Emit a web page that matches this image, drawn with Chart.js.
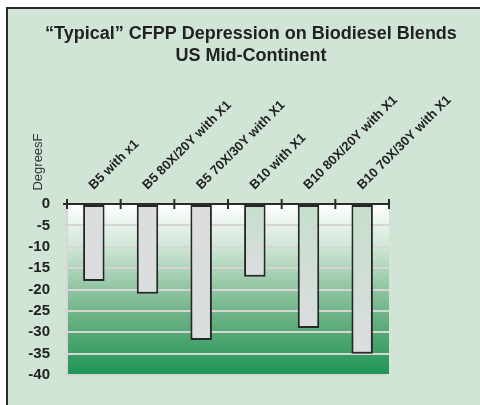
<!DOCTYPE html>
<html>
<head>
<meta charset="utf-8">
<script src="https://cdn.jsdelivr.net/npm/chart.js@4/dist/chart.umd.min.js"></script>
<style>
  html, body { margin: 0; padding: 0; background: #fff; }
  canvas { display: block; }
</style>
</head>
<body>
<canvas id="cfpp" width="480" height="405"></canvas>
<script>
// values
const categories = ['B5 with x1', 'B5 80X/20Y with X1', 'B5 70X/30Y with X1',
    'B10 with X1', 'B10 80X/20Y with X1', 'B10 70X/30Y with X1'];
const cfppDepression = [-18, -21, -31.8, -17, -29, -35];
const yMin = -40;
const yMax = 0;
const yStep = 5;

const titleLines = ['\u201CTypical\u201D CFPP Depression on Biodiesel Blends', 'US Mid-Continent'];
const yTitle = 'DegreesF';

const FONT = "'Liberation Sans', Arial, Helvetica, sans-serif";

// frame + gradient plot background, drawn under everything
const backdrop = {
    id: 'backdrop',
    beforeDraw(chart) {
        const { ctx, chartArea: a, width, height } = chart;
        ctx.save();
        ctx.fillStyle = '#ffffff';
        ctx.fillRect(0, 0, width, height);
        ctx.fillStyle = '#d1e5d7';
        ctx.fillRect(7, 8, width - 7, height - 8);
        ctx.fillStyle = '#2b2b2b';
        ctx.fillRect(6, 7, 2, height - 7);
        ctx.fillRect(6, 7, width - 6, 2);

        const g = ctx.createLinearGradient(0, a.top, 0, a.bottom);
        g.addColorStop(0, '#ffffff');
        g.addColorStop(0.25, '#d0e6d6');
        g.addColorStop(0.5, '#8fc4a0');
        g.addColorStop(0.75, '#56a875');
        g.addColorStop(1, '#1f9556');
        ctx.fillStyle = g;
        ctx.fillRect(a.left, a.top, a.right - a.left, a.bottom - a.top);
        ctx.restore();
    },
    afterDraw(chart) {
        const { ctx, scales } = chart;
        const x = scales.x, y = scales.y;
        const zero = y.getPixelForValue(0);
        ctx.save();
        // zero line with tick marks crossing it at category boundaries
        ctx.strokeStyle = '#2b2b2b';
        ctx.lineWidth = 2;
        ctx.beginPath();
        ctx.moveTo(x.left - 4, zero);
        ctx.lineTo(x.right, zero);
        const half = (x.getPixelForValue(1) - x.getPixelForValue(0)) / 2;
        for (let i = 0; i <= categories.length; i++) {
            const px = x.getPixelForValue(i) - half;
            ctx.moveTo(px, zero - 5);
            ctx.lineTo(px, zero + 5);
        }
        ctx.stroke();

        // category labels, slanted up-right from above each bar
        ctx.fillStyle = '#222';
        ctx.font = 'bold 13px ' + FONT;
        ctx.textAlign = 'left';
        ctx.textBaseline = 'alphabetic';
        categories.forEach((label, i) => {
            ctx.save();
            ctx.translate(x.getPixelForValue(i), zero - 14);
            ctx.rotate(-Math.PI / 4);
            ctx.fillText(label, 0, 0);
            ctx.restore();
        });

        // title
        ctx.textAlign = 'center';
        ctx.textBaseline = 'middle';
        ctx.font = 'bold 18px ' + FONT;
        ctx.fillText(titleLines[0], 251, 34);
        ctx.fillText(titleLines[1], 251, 56);

        // y title, rotated, sitting above the axis
        ctx.font = '13px ' + FONT;
        ctx.fillStyle = '#333';
        ctx.translate(38, 162);
        ctx.rotate(-Math.PI / 2);
        ctx.fillText(yTitle, 0, 0);
        ctx.restore();
    }
};

function barFill(c) {
    const { chart, dataIndex } = c;
    if (dataIndex < 3 || !chart.chartArea) return '#dcdddf';
    const y = chart.scales.y;
    const g = chart.ctx.createLinearGradient(0, y.getPixelForValue(0), 0, y.getPixelForValue(cfppDepression[dataIndex]));
    g.addColorStop(0, '#c5dfcc');
    g.addColorStop(1, '#dcdddf');
    return g;
}

new Chart(document.getElementById('cfpp').getContext('2d'), {
    type: 'bar',
    data: {
        labels: categories,
        datasets: [{
            data: cfppDepression,
            backgroundColor: barFill,
            borderColor: '#262626',
            borderWidth: 2,
            borderSkipped: false,
            categoryPercentage: 1,
            barPercentage: 0.4,
        }],
    },
    options: {
        responsive: false,
        animation: false,
        layout: { padding: { left: 0, top: 0, right: 91, bottom: 30 } },
        plugins: {
            legend: { display: false },
            tooltip: { enabled: false },
            title: { display: false },
        },
        scales: {
            x: {
                position: 'top',
                offset: true,
                grid: { display: false, drawTicks: false },
                border: { display: false },
                ticks: { display: false },
                afterFit(s) { s.height = 204; },
            },
            y: {
                min: yMin,
                max: yMax,
                grid: {
                    color: '#d6d6d6',
                    lineWidth: 2,
                    tickLength: 4,
                },
                border: { color: '#d6d6d6', width: 2 },
                ticks: {
                    stepSize: yStep,
                    padding: 13,
                    color: '#222',
                    font: { family: FONT, size: 15, weight: 'bold' },
                },
                afterFit(s) { s.width = 67; },
            },
        },
    },
    plugins: [backdrop],
});
</script>
</body>
</html>
